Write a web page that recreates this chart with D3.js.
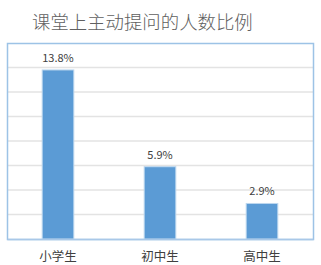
<!DOCTYPE html>
<html>
<head>
<meta charset="utf-8">
<script src="https://cdn.jsdelivr.net/npm/d3@7"></script>
<style>
  body { margin: 0; background: #fff; }
  text { font-family: "Noto Sans CJK SC", "Microsoft YaHei", sans-serif; }
</style>
</head>
<body>
<svg id="chart" width="321" height="265"></svg>
<script>
// 数据
const categories = ["小学生", "初中生", "高中生"];
const values = [13.8, 5.9, 2.9];
const yTicks = [0, 2, 4, 6, 8, 10, 12, 14, 16];
const title = "课堂上主动提问的人数比例";

const svg = d3.select("#chart");
const plotL = 7, plotR = 313, plotT = 43, plotB = 239;

const x = d3.scaleBand().domain(categories).range([plotL, plotR]).paddingInner(0.69).paddingOuter(0.345);
const y = d3.scaleLinear().domain([0, 16]).range([plotB, plotT]);

// 标题
svg.append("text")
    .attr("x", 32).attr("y", 29)
    .attr("font-size", 18.4).attr("font-weight", 300).attr("fill", "#606060")
    .text(title);

// 网格线
svg.append("g").selectAll("line").data(yTicks.slice(1, -1)).enter().append("line")
    .attr("x1", plotL).attr("x2", plotR)
    .attr("y1", d => y(d)).attr("y2", d => y(d))
    .attr("stroke", "#e3e3e3").attr("stroke-width", 1.5);

// 外框
svg.append("rect")
    .attr("x", plotL + 0.5).attr("y", plotT + 0.5)
    .attr("width", plotR - plotL).attr("height", plotB - plotT)
    .attr("fill", "none").attr("stroke", "#9dc3e6").attr("stroke-width", 1.5);

// 柱子
svg.append("g").selectAll("rect").data(values).enter().append("rect")
    .attr("x", (d, i) => x(categories[i]))
    .attr("y", d => y(d))
    .attr("width", x.bandwidth())
    .attr("height", d => plotB - y(d))
    .attr("fill", "#5b9bd5")
    .attr("stroke", "#bdd7ee").attr("stroke-width", 1);

// 数值标签
svg.append("g").selectAll("text").data(values).enter().append("text")
    .attr("x", (d, i) => x(categories[i]) + x.bandwidth() / 2)
    .attr("y", d => y(d) - 8)
    .attr("text-anchor", "middle")
    .attr("font-size", 11).attr("fill", "#404040")
    .text(d => d.toFixed(1) + "%");

// 分类轴
const xAxis = svg.append("g").attr("transform", "translate(0," + plotB + ")")
    .call(d3.axisBottom(x).tickSize(0).tickPadding(13));
xAxis.select(".domain").attr("stroke", "#a9c8e8").attr("stroke-width", 1.5);
xAxis.selectAll("text").attr("font-size", 12.5).attr("fill", "#404040")
    .attr("font-family", "Noto Sans CJK SC, sans-serif");
</script>
</body>
</html>
